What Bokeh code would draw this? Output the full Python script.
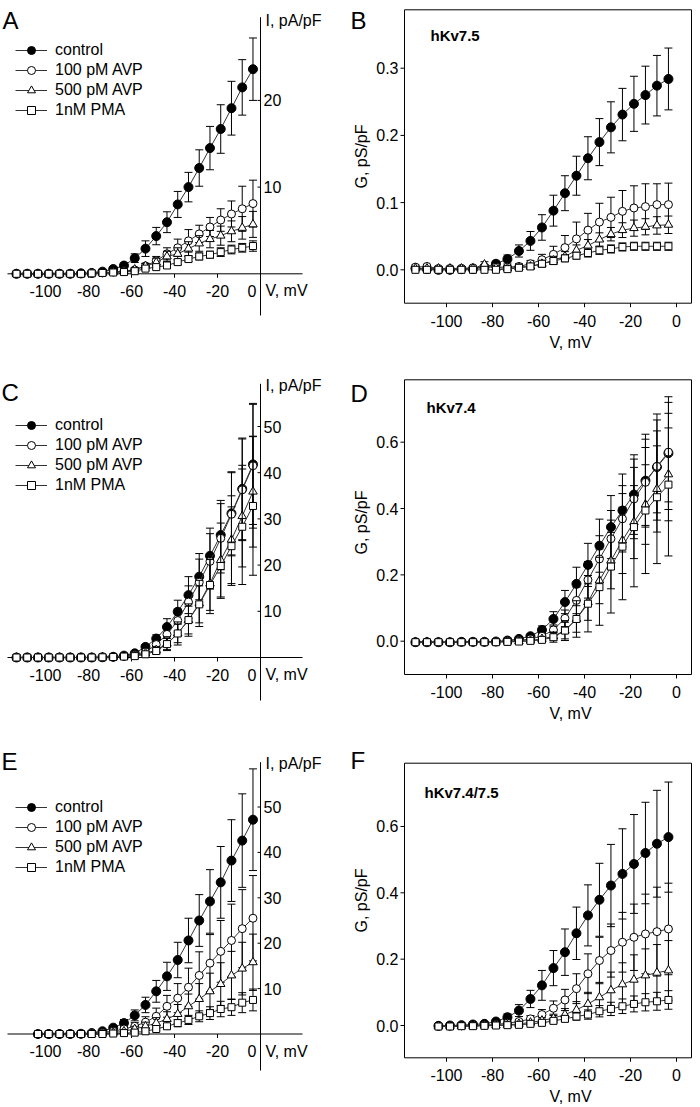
import math
from bokeh.plotting import figure
from bokeh.layouts import row, column
from bokeh.models import Range1d, ColumnDataSource, Legend, LegendItem
from bokeh.embed import file_html
from bokeh.resources import INLINE
from bokeh.core.properties import value

FONT = "Liberation Sans"

# ------------------------------------------------------------------ data
V_23 = [-113.5, -108.5, -103.5, -98.5, -93.5, -88.5, -83.5, -78.5, -73.5, -68.5, -63.5, -58.5,
        -53.5, -48.5, -43.5, -38.5, -33.5, -28.5, -23.5, -18.5, -13.5, -8.5, -3.5]
V_21 = [-103.5, -98.5, -93.5, -88.5, -83.5, -78.5, -73.5, -68.5, -63.5, -58.5,
        -53.5, -48.5, -43.5, -38.5, -33.5, -28.5, -23.5, -18.5, -13.5, -8.5, -3.5]

SERIES = ["control", "100 pM AVP", "500 pM AVP", "1nM PMA"]

# Panel A  (I, pA/pF)
A_control = [0, 0, 0, 0, 0, 0, 0.05, 0.1, 0.25, 0.55, 0.95, 1.8, 2.9, 4.35, 5.95, 8.0, 10.0, 12.2, 14.5, 16.7, 19.1, 21.5, 23.6]
A_control_sem = [0, 0, 0, 0, 0, 0, 0.05, 0.05, 0.1, 0.2, 0.3, 0.5, 0.9, 1.0, 1.2, 1.5, 1.7, 2.1, 2.5, 2.8, 3.1, 3.2, 3.6]
A_avp100 = [0, 0, 0, 0, 0, 0, 0, 0.05, 0.1, 0.2, 0.3, 0.45, 0.9, 1.5, 2.3, 3.0, 3.8, 4.6, 5.4, 6.2, 6.9, 7.5, 8.1]
A_avp100_sem = [0, 0, 0, 0, 0, 0, 0, 0, 0.05, 0.1, 0.15, 0.2, 0.3, 0.5, 0.7, 1.0, 1.3, 1.0, 1.1, 1.3, 1.5, 2.6, 2.7]
A_avp500 = [0, 0, 0, 0, 0, 0, 0, 0.05, 0.1, 0.2, 0.3, 0.5, 0.9, 1.3, 2.0, 2.3, 2.9, 3.5, 4.0, 4.4, 4.9, 5.3, 5.7]
A_avp500_sem = [0, 0, 0, 0, 0, 0, 0, 0, 0.05, 0.1, 0.15, 0.2, 0.3, 0.5, 0.6, 0.7, 0.8, 0.9, 1.0, 1.1, 1.2, 1.3, 1.5]
A_pma = [0, 0, 0, 0, 0, 0, 0, 0.05, 0.1, 0.15, 0.2, 0.3, 0.6, 0.77, 0.96, 1.35, 1.7, 2.0, 2.2, 2.5, 2.8, 3.0, 3.2]
A_pma_sem = [0, 0, 0, 0, 0, 0, 0, 0, 0.05, 0.05, 0.1, 0.1, 0.2, 0.2, 0.3, 0.3, 0.3, 0.4, 0.4, 0.5, 0.5, 0.5, 0.6]

# Panel C  (I, pA/pF)
C_control = [0, 0, 0, 0, 0, 0, 0, 0, 0.05, 0.15, 0.4, 0.9, 2.3, 4.1, 6.6, 9.9, 13.5, 17.5, 22.0, 26.5, 31.2, 36.5, 41.8]
C_control_sem = [0, 0, 0, 0, 0, 0, 0, 0, 0.05, 0.1, 0.2, 0.3, 0.5, 0.8, 1.8, 2.5, 4.0, 5.0, 6.0, 7.5, 9.0, 11.0, 13.0]
C_avp100 = [0, 0, 0, 0, 0, 0, 0, 0, 0.05, 0.1, 0.3, 0.6, 1.2, 2.8, 5.0, 8.0, 12.0, 16.3, 20.8, 25.8, 31.0, 36.3, 41.5]
C_avp100_sem = [0, 0, 0, 0, 0, 0, 0, 0, 0.05, 0.1, 0.2, 0.3, 0.6, 1.0, 1.5, 2.5, 3.5, 5.0, 6.0, 7.5, 9.0, 11.0, 13.5]
C_avp500 = [0, 0, 0, 0, 0, 0, 0, 0, 0.05, 0.1, 0.2, 0.4, 0.9, 1.6, 3.0, 5.2, 8.1, 11.7, 16.0, 21.1, 25.5, 30.6, 35.9]
C_avp500_sem = [0, 0, 0, 0, 0, 0, 0, 0, 0.05, 0.1, 0.15, 0.2, 0.4, 0.8, 1.5, 2.5, 3.5, 5.0, 6.5, 8.0, 9.5, 11.0, 12.0]
C_pma = [0, 0, 0, 0, 0, 0, 0, 0, 0.05, 0.1, 0.2, 0.3, 0.7, 1.4, 2.9, 5.2, 8.1, 11.5, 15.7, 19.8, 24.1, 28.3, 32.8]
C_pma_sem = [0, 0, 0, 0, 0, 0, 0, 0, 0.05, 0.1, 0.15, 0.2, 0.3, 0.6, 1.2, 2.0, 3.0, 4.0, 5.5, 7.0, 8.5, 12.5, 15.0]

# Panel E  (I, pA/pF)
E_control = [0, 0, 0, 0, 0.05, 0.2, 0.6, 1.4, 2.4, 4.1, 6.4, 9.4, 12.7, 16.3, 20.6, 25.0, 29.2, 33.4, 38.2, 42.6, 47.2]
E_control_sem = [0, 0, 0, 0, 0, 0.1, 0.2, 0.4, 0.8, 1.2, 1.7, 2.4, 3.1, 3.9, 4.9, 5.7, 7.0, 7.9, 9.0, 10.3, 11.2]
E_avp100 = [0, 0, 0, 0, 0, 0.1, 0.3, 0.6, 1.1, 1.7, 2.6, 3.9, 6.1, 7.9, 10.3, 12.9, 15.6, 18.2, 20.6, 23.2, 25.5]
E_avp100_sem = [0, 0, 0, 0, 0, 0.1, 0.2, 0.3, 0.5, 0.8, 1.2, 1.8, 2.4, 3.2, 4.2, 5.2, 6.3, 6.8, 8.0, 8.6, 9.4]
E_avp500 = [0, 0, 0, 0, 0, 0, 0.1, 0.3, 0.6, 1.1, 1.7, 2.4, 3.3, 4.4, 6.1, 7.7, 9.4, 11.0, 12.9, 14.4, 15.8]
E_avp500_sem = [0, 0, 0, 0, 0, 0, 0.1, 0.2, 0.4, 0.6, 0.9, 1.2, 1.6, 2.1, 2.7, 3.4, 4.0, 4.7, 5.3, 5.8, 6.2]
E_pma = [0, 0, 0, 0, 0, 0, 0, 0.1, 0.2, 0.3, 0.6, 1.1, 1.7, 2.4, 3.1, 3.9, 4.6, 5.5, 5.9, 6.9, 7.5]
E_pma_sem = [0, 0, 0, 0, 0, 0, 0, 0.1, 0.1, 0.2, 0.3, 0.4, 0.6, 0.8, 1.0, 1.2, 1.4, 1.7, 1.8, 2.2, 2.4]

# Panel B  (G, pS/pF)  hKv7.5
B_control = [0.002, 0.001, 0.0, 0.0, 0.001, 0.001, 0.004, 0.009, 0.016, 0.028, 0.043, 0.063, 0.088, 0.114, 0.140, 0.166, 0.190, 0.212, 0.231, 0.247, 0.260, 0.274, 0.284]
B_control_sem = [0.002, 0.002, 0.002, 0.002, 0.002, 0.003, 0.003, 0.004, 0.006, 0.009, 0.014, 0.019, 0.023, 0.026, 0.029, 0.032, 0.035, 0.038, 0.039, 0.041, 0.043, 0.045, 0.046]
B_avp100 = [0.004, 0.005, 0.002, 0.002, 0.002, 0.003, 0.004, 0.004, 0.004, 0.005, 0.009, 0.015, 0.023, 0.033, 0.046, 0.059, 0.071, 0.078, 0.087, 0.092, 0.094, 0.097, 0.097]
B_avp100_sem = [0.003, 0.003, 0.003, 0.003, 0.003, 0.003, 0.003, 0.003, 0.003, 0.004, 0.005, 0.008, 0.012, 0.018, 0.025, 0.025, 0.028, 0.030, 0.031, 0.033, 0.034, 0.031, 0.032]
B_avp500 = [0.002, 0.002, 0.002, 0.002, 0.002, 0.002, 0.008, 0.003, 0.002, 0.004, 0.005, 0.009, 0.014, 0.020, 0.029, 0.036, 0.045, 0.053, 0.059, 0.062, 0.064, 0.066, 0.067]
B_avp500_sem = [0.003, 0.003, 0.003, 0.003, 0.003, 0.003, 0.004, 0.003, 0.003, 0.003, 0.004, 0.005, 0.006, 0.007, 0.008, 0.009, 0.010, 0.010, 0.011, 0.012, 0.012, 0.013, 0.013]
B_pma = [0.0, 0.0, 0.0, 0.0, 0.0, 0.0, 0.0, 0.0, 0.001, 0.003, 0.005, 0.009, 0.013, 0.017, 0.021, 0.025, 0.029, 0.031, 0.034, 0.035, 0.035, 0.035, 0.035]
B_pma_sem = [0.001, 0.001, 0.001, 0.001, 0.001, 0.001, 0.001, 0.001, 0.002, 0.002, 0.003, 0.003, 0.004, 0.005, 0.005, 0.006, 0.006, 0.006, 0.006, 0.006, 0.006, 0.006, 0.006]

# Panel D  (G, pS/pF)  hKv7.4
D_control = [-0.003, -0.003, -0.003, -0.003, -0.002, -0.002, -0.002, -0.001, 0.002, 0.007, 0.015, 0.034, 0.067, 0.118, 0.173, 0.230, 0.288, 0.344, 0.394, 0.442, 0.484, 0.525, 0.567]
D_control_sem = [0.002, 0.002, 0.002, 0.002, 0.002, 0.002, 0.002, 0.002, 0.003, 0.004, 0.006, 0.012, 0.022, 0.035, 0.050, 0.065, 0.080, 0.095, 0.110, 0.120, 0.140, 0.160, 0.170]
D_avp100 = [-0.003, -0.003, -0.003, -0.003, -0.002, -0.002, -0.002, -0.001, 0.0, 0.002, 0.007, 0.015, 0.034, 0.069, 0.123, 0.185, 0.248, 0.309, 0.369, 0.429, 0.479, 0.527, 0.570]
D_avp100_sem = [0.002, 0.002, 0.002, 0.002, 0.002, 0.002, 0.002, 0.002, 0.002, 0.003, 0.004, 0.008, 0.015, 0.025, 0.040, 0.055, 0.070, 0.085, 0.100, 0.120, 0.130, 0.140, 0.150]
D_avp500 = [-0.002, -0.002, -0.002, -0.003, -0.003, -0.002, -0.002, -0.002, -0.001, 0.0, 0.002, 0.007, 0.015, 0.032, 0.067, 0.118, 0.183, 0.243, 0.304, 0.359, 0.412, 0.459, 0.503]
D_avp500_sem = [0.002, 0.002, 0.002, 0.002, 0.002, 0.002, 0.002, 0.002, 0.002, 0.002, 0.003, 0.006, 0.012, 0.025, 0.040, 0.055, 0.070, 0.085, 0.100, 0.110, 0.120, 0.130, 0.140]
D_pma = [-0.003, -0.003, -0.003, -0.003, -0.003, -0.003, -0.003, -0.003, -0.002, -0.001, 0.001, 0.004, 0.012, 0.032, 0.067, 0.113, 0.163, 0.225, 0.285, 0.344, 0.394, 0.434, 0.472]
D_pma_sem = [0.002, 0.002, 0.002, 0.002, 0.002, 0.002, 0.002, 0.002, 0.002, 0.002, 0.003, 0.006, 0.015, 0.030, 0.055, 0.085, 0.115, 0.140, 0.160, 0.180, 0.190, 0.200, 0.215]

# Panel F  (G, pS/pF)  hKv7.4/7.5
F_control = [-0.001, 0.0, 0.001, 0.003, 0.005, 0.012, 0.025, 0.045, 0.080, 0.121, 0.173, 0.221, 0.278, 0.332, 0.379, 0.422, 0.457, 0.487, 0.520, 0.548, 0.568]
F_control_sem = [0.002, 0.002, 0.002, 0.003, 0.004, 0.005, 0.010, 0.018, 0.026, 0.045, 0.053, 0.070, 0.079, 0.092, 0.110, 0.124, 0.136, 0.149, 0.153, 0.161, 0.166]
F_avp100 = [-0.002, -0.002, -0.001, 0.0, 0.001, 0.003, 0.007, 0.012, 0.020, 0.033, 0.052, 0.077, 0.111, 0.156, 0.196, 0.226, 0.251, 0.266, 0.276, 0.283, 0.291]
F_avp100_sem = [0.002, 0.002, 0.002, 0.002, 0.002, 0.003, 0.004, 0.006, 0.010, 0.015, 0.022, 0.032, 0.045, 0.060, 0.070, 0.080, 0.090, 0.100, 0.120, 0.134, 0.138]
F_avp500 = [-0.002, -0.002, -0.002, -0.001, 0.0, 0.001, 0.002, 0.005, 0.009, 0.015, 0.022, 0.033, 0.047, 0.065, 0.085, 0.106, 0.124, 0.138, 0.151, 0.159, 0.166]
F_avp500_sem = [0.002, 0.002, 0.002, 0.002, 0.002, 0.002, 0.003, 0.004, 0.005, 0.008, 0.012, 0.018, 0.025, 0.035, 0.045, 0.055, 0.065, 0.075, 0.080, 0.085, 0.090]
F_pma = [-0.003, -0.003, -0.002, -0.002, -0.001, 0.0, 0.001, 0.002, 0.005, 0.008, 0.014, 0.020, 0.027, 0.033, 0.043, 0.050, 0.058, 0.065, 0.070, 0.073, 0.077]
F_pma_sem = [0.001, 0.001, 0.001, 0.001, 0.001, 0.001, 0.002, 0.002, 0.003, 0.004, 0.006, 0.008, 0.011, 0.014, 0.017, 0.020, 0.022, 0.024, 0.026, 0.027, 0.028]

IV_X_TICKS = [-100, -80, -60, -40, -20]
IV_X_LABELS = ["-100", "-80", "-60", "-40", "-20"]
A_Y_TICKS = [10, 20]
CE_Y_TICKS = [10, 20, 30, 40, 50]
G_X_TICKS = [-100, -80, -60, -40, -20, 0]
G_X_LABELS = ["-100", "-80", "-60", "-40", "-20", "0"]
B_Y_TICKS = [0.0, 0.1, 0.2, 0.3]
B_Y_LABELS = ["0.0", "0.1", "0.2", "0.3"]
DF_Y_TICKS = [0.0, 0.2, 0.4, 0.6]
DF_Y_LABELS = ["0.0", "0.2", "0.4", "0.6"]

# ------------------------------------------------------------------ styling
STYLES = [
    dict(marker="circle", size=9, fill_color="black"),
    dict(marker="circle", size=8, fill_color="white"),
    dict(marker="triangle", size=8.5, fill_color="white"),
    dict(marker="square", size=7, fill_color="white"),
]
LINE_COLOR = "#333333"
TXT = dict(text_font=value(FONT), text_color="black")


def add_series(p, V, vals, sems, style):
    lo = [v - s for v, s in zip(vals, sems)]
    hi = [v + s for v, s in zip(vals, sems)]
    src = ColumnDataSource(dict(x=V, y=vals, lo=lo, hi=hi))
    ln = p.line("x", "y", source=src, line_color=LINE_COLOR, line_width=1)
    p.segment(x0="x", y0="lo", x1="x", y1="hi", source=src, line_color="black", line_width=1)
    p.scatter("x", "lo", source=src, marker="dash", size=8, line_color="black", line_width=1)
    p.scatter("x", "hi", source=src, marker="dash", size=8, line_color="black", line_width=1)
    sc = p.scatter("x", "y", source=src, marker=style["marker"], size=style["size"],
                   fill_color=style["fill_color"], line_color="black", line_width=1)
    return ln, sc


def put_text(p, x, y, s, size="16px", align="left", baseline="middle", bold=False, angle=0.0):
    p.text(x=[x], y=[y], text=[s], text_font_size=size, text_align=align,
           text_baseline=baseline, text_font_style="bold" if bold else "normal",
           angle=angle, **TXT)


def bare_figure(w, h, xr, yr):
    p = figure(width=w, height=h, x_range=Range1d(*xr), y_range=Range1d(*yr),
               x_axis_location=None, y_axis_location=None,
               toolbar_location=None, output_backend="svg", min_border=0)
    p.outline_line_color = None
    p.grid.visible = False
    return p


def iv_panel(letter, V, series, sems, yticks, g):
    left, top, w, h = g["box"]
    vx0, kx, iy0, ky = g["vx0"], g["kx"], g["iy0"], g["ky"]

    def dx(px):
        return (px - vx0) / kx

    def dy(py):
        return (iy0 - py) / ky

    p = bare_figure(w, h, (dx(left), dx(left + w)), (dy(top + h), dy(top)))

    # crossing axes
    p.segment(x0=[dx(g["xline"][0])], y0=[0], x1=[dx(g["xline"][1])], y1=[0],
              line_color="black", line_width=1)
    p.segment(x0=[0], y0=[dy(g["yline"][0])], x1=[0], y1=[dy(g["yline"][1])],
              line_color="black", line_width=1)
    n = len(yticks)
    p.segment(x0=[0] * n, y0=yticks, x1=[dx(vx0 - 3)] * n, y1=yticks,
              line_color="black", line_width=1)
    p.text(x=[dx(vx0 + 3)] * n, y=yticks, text=[str(t) for t in yticks],
           text_font_size="16px", text_align="left", text_baseline="middle", **TXT)
    m = len(IV_X_TICKS)
    p.segment(x0=IV_X_TICKS, y0=[0] * m, x1=IV_X_TICKS, y1=[dy(iy0 + 4)] * m,
              line_color="black", line_width=1)
    p.text(x=IV_X_TICKS, y=[dy(iy0 + 17)] * m, text=IV_X_LABELS,
           text_font_size="16px", text_align="center", text_baseline="middle", **TXT)
    put_text(p, dx(vx0 - 4), dy(iy0 + 17), "0", align="right")
    put_text(p, dx(vx0 + 5), dy(iy0 + 17), "V, mV")
    put_text(p, dx(vx0 + 5), dy(g["ilabel_y"]), "I, pA/pF")
    put_text(p, dx(g["letter"][0]), dy(g["letter"][1]), letter, size="24px",
             baseline="alphabetic")

    items = []
    for name, vals, ss, st in zip(SERIES, series, sems, STYLES):
        ln, sc = add_series(p, V, vals, ss, st)
        items.append(LegendItem(label=name, renderers=[ln, sc]))
    leg = Legend(items=items,
                 location=(g["leg_x"] - left, (top + h) - (g["leg_y"] - 10 + 80)),
                 glyph_width=32, glyph_height=20, label_height=20, label_standoff=8,
                 spacing=0, padding=0, margin=0, border_line_color=None,
                 background_fill_alpha=0, label_text_font=FONT,
                 label_text_font_size="16px", label_text_color="black")
    p.add_layout(leg)
    return p


def g_panel(letter, title, V, series, sems, yticks, ylabels, g):
    top, h = g["row"]
    left, w = 350, 348
    fl, fr, ft, fb = 404, 691, g["ftop"], g["fbot"]
    vx0, kx, gy0, ky = 676.0, 2.3, g["gy0"], g["ky"]

    def dx(px):
        return (px - vx0) / kx

    def dy(py):
        return (gy0 - py) / ky

    p = bare_figure(w, h, (dx(left), dx(left + w)), (dy(top + h), dy(top)))

    # frame box, ticks, tick labels
    p.quad(left=[dx(fl)], right=[dx(fr)], bottom=[dy(fb)], top=[dy(ft)],
           fill_color=None, line_color="black", line_width=1)
    n = len(G_X_TICKS)
    p.segment(x0=G_X_TICKS, y0=[dy(fb)] * n, x1=G_X_TICKS, y1=[dy(fb + 4)] * n,
              line_color="black", line_width=1)
    p.text(x=G_X_TICKS, y=[dy(fb + 17.5)] * n, text=G_X_LABELS, text_font_size="16px",
           text_align="center", text_baseline="middle", **TXT)
    m = len(yticks)
    p.segment(x0=[dx(fl)] * m, y0=yticks, x1=[dx(fl - 4)] * m, y1=yticks,
              line_color="black", line_width=1)
    p.text(x=[dx(fl - 6)] * m, y=yticks, text=ylabels, text_font_size="16px",
           text_align="right", text_baseline="middle", **TXT)
    put_text(p, dx(570), dy(fb + 39), "V, mV", align="center")
    put_text(p, dx(361), dy(g["glabel_y"]), "G, pS/pF", align="center", angle=math.pi / 2)
    put_text(p, dx(g["title"][0]), dy(g["title"][1]), title, size="15px", bold=True)
    put_text(p, dx(g["letter"][0]), dy(g["letter"][1]), letter, size="24px",
             baseline="alphabetic")

    for vals, ss, st in zip(series, sems, STYLES):
        add_series(p, V, vals, ss, st)
    return p


pA = iv_panel("A", V_23, [A_control, A_avp100, A_avp500, A_pma],
              [A_control_sem, A_avp100_sem, A_avp500_sem, A_pma_sem], A_Y_TICKS,
              dict(box=(0, 0, 350, 370), vx0=260, kx=2.15, iy0=273.3, ky=8.67,
                   xline=(7, 302), yline=(16.7, 315), ilabel_y=20, letter=(2, 20),
                   leg_x=15, leg_y=50.3))
pC = iv_panel("C", V_23, [C_control, C_avp100, C_avp500, C_pma],
              [C_control_sem, C_avp100_sem, C_avp500_sem, C_pma_sem], CE_Y_TICKS,
              dict(box=(0, 370, 350, 370), vx0=260, kx=2.15, iy0=657.0, ky=4.62,
                   xline=(7, 302), yline=(383.3, 700), ilabel_y=385, letter=(1, 392),
                   leg_x=15, leg_y=425.3))
pE = iv_panel("E", V_21, [E_control, E_avp100, E_avp500, E_pma],
              [E_control_sem, E_avp100_sem, E_avp500_sem, E_pma_sem], CE_Y_TICKS,
              dict(box=(0, 740, 350, 365), vx0=260, kx=2.15, iy0=1033.5, ky=4.54,
                   xline=(7, 302), yline=(761.7, 1070), ilabel_y=763.3, letter=(1, 761),
                   leg_x=15, leg_y=807))

pB = g_panel("B", "hKv7.5", V_23, [B_control, B_avp100, B_avp500, B_pma],
             [B_control_sem, B_avp100_sem, B_avp500_sem, B_pma_sem], B_Y_TICKS, B_Y_LABELS,
             dict(row=(0, 370), ftop=9.3, fbot=302.7, gy0=269.3, ky=672.0,
                  title=(430, 35), glabel_y=156, letter=(350, 20)))
pD = g_panel("D", "hKv7.4", V_23, [D_control, D_avp100, D_avp500, D_pma],
             [D_control_sem, D_avp100_sem, D_avp500_sem, D_pma_sem], DF_Y_TICKS, DF_Y_LABELS,
             dict(row=(370, 370), ftop=379.3, fbot=674, gy0=640.7, ky=331.7,
                  title=(426, 406.7), glabel_y=522, letter=(350, 393)))
pF = g_panel("F", "hKv7.4/7.5", V_21, [F_control, F_avp100, F_avp500, F_pma],
             [F_control_sem, F_avp100_sem, F_avp500_sem, F_pma_sem], DF_Y_TICKS, DF_Y_LABELS,
             dict(row=(740, 365), ftop=762.7, fbot=1057.3, gy0=1025.0, ky=331.7,
                  title=(424, 791.7), glabel_y=900, letter=(350, 760)))

layout = column(row(pA, pB), row(pC, pD), row(pE, pF))

with open("out.html", "w") as f:
    f.write(file_html(layout, INLINE))
